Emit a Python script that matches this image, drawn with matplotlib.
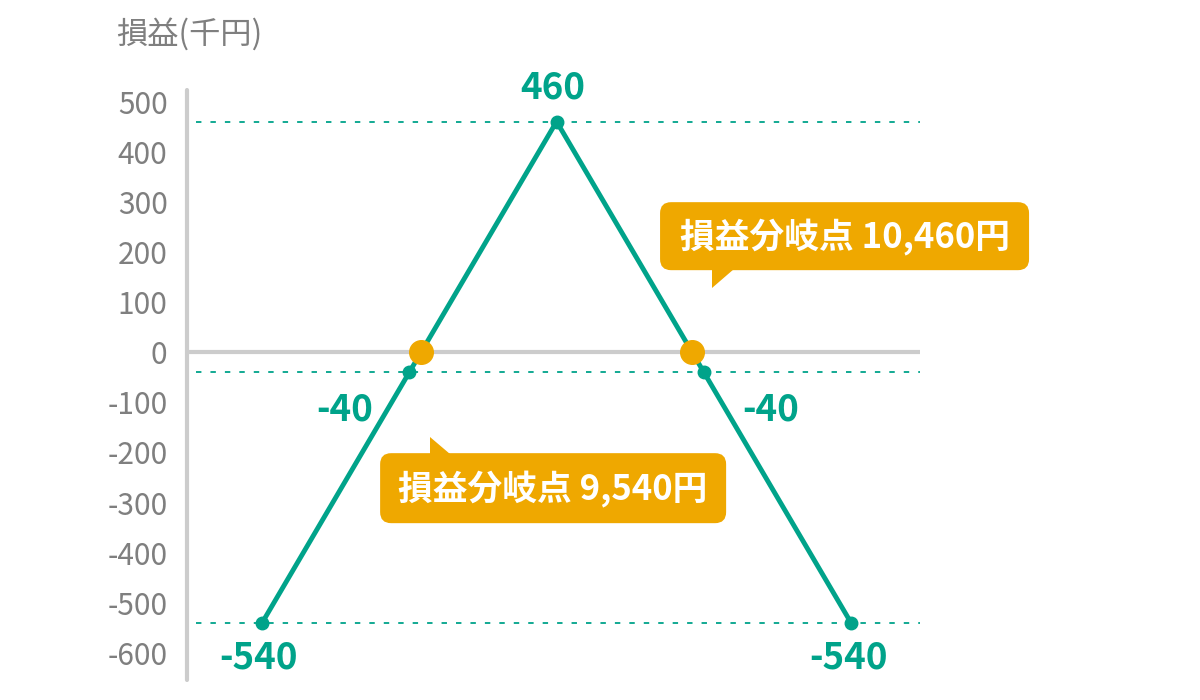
import matplotlib
matplotlib.use("Agg")
import matplotlib.pyplot as plt
from matplotlib import transforms
from matplotlib.patches import FancyBboxPatch, Polygon

# ---- data ----
prices = [9000, 9500, 10000, 10500, 11000]
profit = [-540, -40, 460, -40, -540]
breakeven_x = [9540, 10460]
breakeven_labels = ["損益分岐点 9,540円", "損益分岐点 10,460円"]
yticks = [500, 400, 300, 200, 100, 0, -100, -200, -300, -400, -500, -600]
guide_levels = [460, -40, -540]
ylabel = "損益(千円)"

TEAL = "#00A38A"
ORANGE = "#EFA800"
GRAY_AX = "#CCCCCC"
GRAY_TXT = "#7F7F7F"
FONT = ["Noto Sans CJK JP", "DejaVu Sans"]
plt.rcParams["font.family"] = FONT

W, H = 1200, 700
fig = plt.figure(figsize=(W / 100, H / 100), dpi=100)
fig.patch.set_facecolor("white")

# axes occupying pixel box x:187..920, y:90..680 (top-left origin)
ax = fig.add_axes([187 / W, 1 - 680 / H, (920 - 187) / W, (680 - 90) / H])
ax.set_xlim(8745, 11234)
ax.set_ylim(-654, 523)
for s in ax.spines.values():
    s.set_visible(False)
ax.set_xticks([])
ax.set_yticks(yticks)
ax.set_yticklabels([str(v) for v in yticks])
ax.tick_params(axis="y", length=0, pad=14, labelsize=21.5, labelcolor=GRAY_TXT)

# vertical axis line
ax.plot([8745, 8745], [-654, 523], color=GRAY_AX, lw=3, solid_capstyle="round",
        clip_on=False, zorder=2)
# zero line
ax.plot([8745, 11234], [0, 0], color=GRAY_AX, lw=3, solid_capstyle="butt",
        clip_on=False, zorder=2)
# guide lines
for lv in guide_levels:
    ax.plot([8775, 11234], [lv, lv], color=TEAL, lw=1.3, ls=(0, (3, 5)),
            clip_on=False, zorder=2)

# main line
ax.plot(prices, profit, color=TEAL, lw=3.5, zorder=4, solid_capstyle="round",
        marker="o", markersize=9, markerfacecolor=TEAL, markeredgecolor=TEAL)

# breakeven points
ax.plot(breakeven_x, [0] * len(breakeven_x), "o", color=ORANGE, markersize=17,
        zorder=5, clip_on=False)

# value labels
lab_kw = dict(color=TEAL, fontsize=26.5, fontweight="bold", family=FONT)
ax.annotate(str(profit[2]), (prices[2], profit[2]), xytext=(-4, 15),
            textcoords="offset pixels", ha="center", va="bottom", **lab_kw)
ax.annotate(str(profit[1]), (prices[1], profit[1]), xytext=(-36, -38),
            textcoords="offset pixels", ha="right", va="center", **lab_kw)
ax.annotate(str(profit[3]), (prices[3], profit[3]), xytext=(38, -38),
            textcoords="offset pixels", ha="left", va="center", **lab_kw)
ax.annotate(str(profit[0]), (prices[0], profit[0]), xytext=(-4, -35),
            textcoords="offset pixels", ha="center", va="center", **lab_kw)
ax.annotate(str(profit[4]), (prices[4], profit[4]), xytext=(-3, -35),
            textcoords="offset pixels", ha="center", va="center", **lab_kw)

# y-axis title
fig.text(116 / W, 1 - 34 / H, ylabel, color=GRAY_TXT, fontsize=22.5,
         ha="left", va="center")

# ---- callouts (pixel coords, bottom-left origin) ----
fig.canvas.draw()
pix = transforms.Affine2D().scale(1 / 100) + fig.dpi_scale_trans


def callout(bx, text, box, tail):
    px, py = ax.transData.transform((bx, 0))
    x0, y0, w, h = box  # relative to anchor, bottom-left
    fb = FancyBboxPatch((px + x0, py + y0), w, h,
                        boxstyle="round,pad=0,rounding_size=11",
                        fc=ORANGE, ec="none", transform=pix, zorder=6)
    fig.add_artist(fb)
    tri = Polygon([(px + tx, py + ty) for tx, ty in tail], closed=True,
                  fc=ORANGE, ec="none", transform=pix, zorder=6)
    fig.add_artist(tri)
    fig.text(px + x0 + w / 2, py + y0 + h / 2 - 1, text, transform=pix,
             color="white", fontsize=25, fontweight="bold", ha="center",
             va="center", zorder=7)


# left callout: anchor (423,352) -> box 382..728 x, 453..523 y (top-left)
callout(breakeven_x[0], breakeven_labels[0],
        (382 - 423, -(523 - 352), 728 - 382, 523 - 453),
        [(432 - 423, -(437 - 352)), (432 - 423, -(454 - 352)), (452 - 423, -(454 - 352))])
# right callout: anchor (690,352) -> box 658..1027, 202..270
callout(breakeven_x[1], breakeven_labels[1],
        (658 - 690, 352 - 270, 1027 - 658, 270 - 202),
        [(710 - 690, 352 - 288), (710 - 690, 352 - 269), (732 - 690, 352 - 269)])

fig.savefig("out.png", dpi=100, facecolor="white")
